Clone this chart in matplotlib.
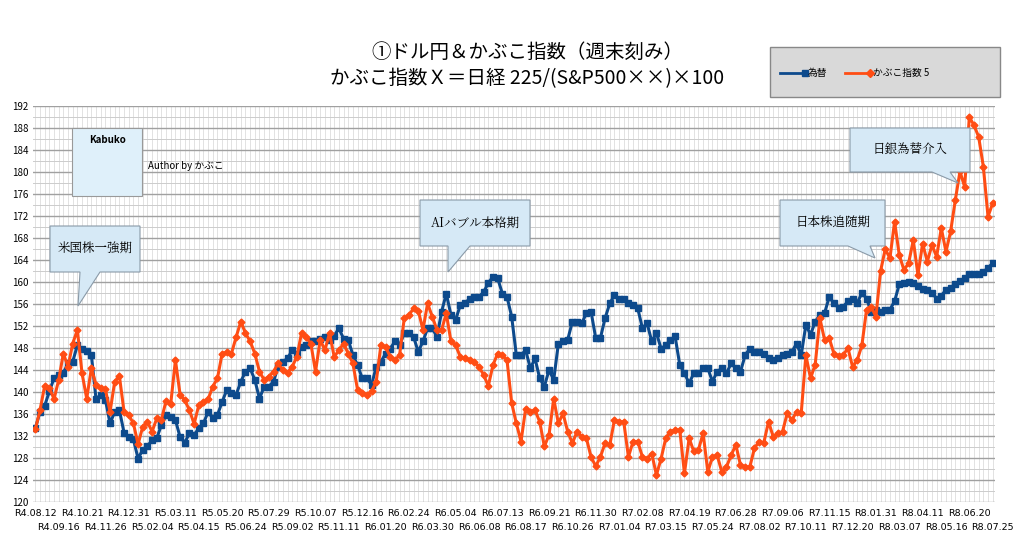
import matplotlib
matplotlib.use('Agg')
import matplotlib.pyplot as plt
from matplotlib.patches import Polygon, Rectangle
from matplotlib.ticker import FixedLocator, FixedFormatter

plt.rcParams['font.family'] = ['Noto Sans CJK JP', 'DejaVu Sans']

# weekly values
usdjpy = [133.4, 136.4, 137.5, 140.1, 142.5, 143.1, 143.5, 145.2, 145.5, 148.5,
          147.8, 147.5, 146.7, 138.7, 139.5, 138.6, 134.3, 136.4, 136.7, 132.6,
          131.9, 131.4, 127.9, 129.5, 130.1, 131.3, 131.6, 134.0, 135.8, 135.5,
          134.9, 131.8, 130.8, 132.5, 132.2,
          133.4, 134.3, 136.4, 135.2, 135.8, 138.2, 140.4, 139.8, 139.5, 141.9,
          143.7, 144.3, 142.2, 138.8, 141.0, 141.0, 141.9, 144.6, 145.5, 146.1,
          147.6, 147.0, 148.2, 148.5, 149.2, 149.3, 149.7, 150.0, 149.5, 150.2,
          151.6, 149.7, 149.5, 146.7,
          144.9, 142.5, 142.5, 141.3, 144.6, 145.5, 147.0, 147.9, 149.2, 148.5,
          150.7, 150.7, 150.0, 147.3, 149.2, 151.6, 151.6, 150.0, 154.6, 157.9,
          154.0, 153.1, 155.8, 156.1, 157.0, 157.3, 157.3, 158.2, 159.8, 161.0,
          160.7, 157.9, 157.3, 153.7, 146.7,
          146.7, 147.6, 144.3, 146.1, 142.5, 141.0, 144.0, 142.2, 148.8, 149.2,
          149.5, 152.8, 152.8, 152.5, 154.3, 154.6, 149.8, 149.8, 153.4, 156.1,
          157.6, 157.0, 157.0, 156.1, 155.8, 155.2, 151.6, 152.5, 149.2, 150.7,
          147.9, 148.5, 149.5, 150.1,
          144.9, 143.4, 141.6, 143.4, 143.4, 144.3, 144.3, 141.9, 143.7, 144.3,
          143.4, 145.2, 144.3, 143.7, 146.7, 147.9, 147.3, 147.3, 147.0, 146.1,
          145.8, 146.1, 146.7, 147.0, 147.3, 148.8, 146.7, 152.2, 150.4, 152.8,
          154.0, 154.3, 157.3, 156.1,
          155.3, 155.5, 156.5, 157.0, 156.2, 158.0, 157.0, 154.5, 155.0, 154.5,
          155.0, 155.0, 156.5, 159.6, 159.8, 160.0, 159.8, 159.3, 158.8, 158.6,
          158.0, 157.0, 157.5, 158.6, 159.0, 159.6, 160.1, 160.7, 161.4, 161.5,
          161.5, 161.9, 162.5, 163.5]

kabuko = [133.2, 136.7, 141.1, 140.8, 138.7, 142.2, 147.0, 144.6, 148.8, 151.3,
          143.4, 138.8, 144.3, 141.3, 140.7, 140.5, 136.4, 141.9, 142.9, 136.4,
          135.8, 134.3, 130.5, 133.7, 134.6, 132.8, 135.2, 135.0, 138.4, 137.9,
          145.8, 139.5, 138.5, 136.7, 134.2,
          137.6, 138.2, 138.7, 141.0, 142.5, 147.0, 147.2, 147.0, 150.0, 152.8,
          150.7, 149.2, 147.0, 143.7, 142.2, 142.8, 143.7, 145.2, 144.0, 143.5,
          144.6, 146.4, 150.7, 150.0, 148.8, 143.7, 149.5, 147.6, 150.7, 146.4,
          147.6, 148.8, 147.0, 145.2,
          140.4, 139.8, 139.5, 140.1, 141.9, 148.5, 148.2, 146.4, 145.8, 146.7,
          153.4, 154.0, 155.2, 154.8, 151.3, 156.1, 153.7, 151.3, 151.3, 154.3,
          149.2, 148.5, 146.4, 146.1, 145.8, 145.5, 144.6, 143.1, 141.1, 144.9,
          147.0, 146.7, 145.8, 138.0, 134.3,
          131.0, 137.0, 136.4, 136.7, 134.6, 130.1, 132.2, 138.8, 134.3, 136.1,
          132.8, 130.7, 132.8, 131.9, 131.6, 128.2, 126.5, 128.2, 130.7, 130.3,
          134.9, 134.6, 134.6, 128.2, 131.0, 131.0, 128.2, 127.9, 128.8, 124.9,
          127.9, 131.6, 132.8, 133.1,
          133.1, 125.2, 131.6, 129.2, 129.5, 132.5, 125.5, 128.2, 128.5, 125.5,
          126.4, 128.5, 130.4, 126.7, 126.4, 126.4, 129.8, 131.0, 130.8, 134.6,
          131.9, 132.5, 132.8, 136.1, 134.9, 136.4, 136.1, 146.7, 142.5, 145.0,
          153.4, 149.5, 149.8, 147.0,
          146.5, 146.7, 148.0, 144.6, 145.8, 148.5, 155.0, 155.5, 153.7, 162.0,
          166.0, 164.3, 171.0, 164.9, 162.2, 163.4, 167.6, 161.3, 167.0, 163.7,
          166.7, 164.6, 169.8, 165.5, 169.2, 174.9, 180.1, 177.3, 190.0, 188.5,
          186.4, 181.0, 171.9, 174.3]

tick_labels = ['R4.08.12', 'R4.09.16', 'R4.10.21', 'R4.11.26', 'R4.12.31', 'R5.02.04',
               'R5.03.11', 'R5.04.15', 'R5.05.20', 'R5.06.24', 'R5.07.29', 'R5.09.02',
               'R5.10.07', 'R5.11.11', 'R5.12.16', 'R6.01.20', 'R6.02.24', 'R6.03.30',
               'R6.05.04', 'R6.06.08', 'R6.07.13', 'R6.08.17', 'R6.09.21', 'R6.10.26',
               'R6.11.30', 'R7.01.04', 'R7.02.08', 'R7.03.15', 'R7.04.19', 'R7.05.24',
               'R7.06.28', 'R7.08.02', 'R7.09.06', 'R7.10.11', 'R7.11.15', 'R7.12.20',
               'R8.01.31', 'R8.03.07', 'R8.04.11', 'R8.05.16', 'R8.06.20', 'R8.07.25']

n = len(usdjpy)
xs = list(range(n))

W, H = 1024, 552
fig = plt.figure(figsize=(W / 100, H / 100), dpi=100)
ax = fig.add_axes([33 / W, 50 / H, 962 / W, 396 / H])

# dense light grid like the spreadsheet
for i in xs:
    ax.axvline(i, color='#dddddd', lw=0.6, zorder=0)
ax.set_yticks(range(120, 193, 4))
for v in range(122, 192, 4):
    ax.axhline(v, color='#cccccc', lw=0.7, zorder=0)
ax.grid(axis='y', color='#a0a0a0', lw=1.0, zorder=0)

ax.plot(xs, usdjpy, color='#0d4a8c', lw=2.2, marker='s', ms=5, zorder=3)
ax.plot(xs, kabuko, color='#ff4d14', lw=2.2, marker='D', ms=3.5, zorder=4)

ax.set_xlim(-0.5, n - 0.5)
ax.set_ylim(120, 192)
tick_pos = [min(5 * i, n - 1) for i in range(len(tick_labels))]
ax.xaxis.set_major_locator(FixedLocator(tick_pos[0::2]))
ax.xaxis.set_major_formatter(FixedFormatter(tick_labels[0::2]))
ax.xaxis.set_minor_locator(FixedLocator(tick_pos[1::2]))
ax.xaxis.set_minor_formatter(FixedFormatter(tick_labels[1::2]))
for lab in ax.get_xticklabels(which='both'):
    lab.set_fontsize(6.8)
    lab.set_family('DejaVu Sans')
ax.tick_params(axis='x', which='major', length=0, pad=5)
ax.tick_params(axis='x', which='minor', length=0, pad=15)
ax.tick_params(axis='y', labelsize=7, length=0)
for s in ax.spines.values():
    s.set_visible(False)

# title
fig.text(0.515, 1 - 52 / H, '①ドル円＆かぶこ指数（週末刻み）', ha='center', va='center', fontsize=14)
fig.text(0.515, 1 - 79 / H, 'かぶこ指数Ｘ＝日経 225/(S&P500××)×100', ha='center', va='center', fontsize=14)

# legend box
fig.patches.append(Rectangle((770 / W, 1 - 97 / H), 230 / W, 50 / H, transform=fig.transFigure,
                             facecolor='#d9d9d9', edgecolor='#888888', lw=1))
fig.add_artist(plt.Line2D([780 / W, 805 / W], [1 - 73 / H] * 2, color='#0d4a8c', lw=2,
                          marker='s', ms=5, markevery=[1], transform=fig.transFigure))
fig.text(808 / W, 1 - 73 / H, '為替', fontsize=7, va='center')
fig.add_artist(plt.Line2D([845 / W, 870 / W], [1 - 73 / H] * 2, color='#ff4d14', lw=2,
                          marker='D', ms=4, markevery=[1], transform=fig.transFigure))
fig.text(873 / W, 1 - 73 / H, 'かぶこ指数 5', fontsize=7, va='center')

# logo and author
fig.patches.append(Rectangle((72 / W, 1 - 196 / H), 70 / W, 68 / H, transform=fig.transFigure,
                             facecolor='#dff0fa', edgecolor='#999999', lw=0.8))
fig.text(107 / W, 1 - 140 / H, 'Kabuko', ha='center', va='center', fontsize=7, weight='bold')
fig.text(148 / W, 1 - 166 / H, 'Author by かぶこ', fontsize=7, va='center')


def callout(x0, y0, x1, y1, tail, text):
    # rectangle box with triangular pointer, pixel coords from top-left
    tx, ty, bx0, bx1 = tail
    pts = [(x0, y0), (x1, y0), (x1, y1), (bx1, y1), (tx, ty), (bx0, y1), (x0, y1)]
    pts = [(px / W, 1 - py / H) for px, py in pts]
    fig.patches.append(Polygon(pts, closed=True, transform=fig.transFigure,
                               facecolor='#d6e9f6', edgecolor='#8a9aa8', lw=0.8, zorder=5))
    fig.text((x0 + x1) / 2 / W, 1 - (y0 + y1) / 2 / H, text, ha='center', va='center',
             fontsize=9, family=['Noto Serif CJK JP', 'Noto Sans CJK JP'], zorder=6)


callout(50, 226, 140, 272, (78, 306, 80, 100), '米国株一強期')
callout(420, 200, 530, 246, (448, 272, 448, 470), 'AIバブル本格期')
callout(780, 200, 885, 246, (875, 258, 848, 870), '日本株追随期')
callout(850, 128, 970, 172, (958, 183, 932, 950), '日銀為替介入')

fig.savefig('out.png', dpi=100, facecolor='white')
